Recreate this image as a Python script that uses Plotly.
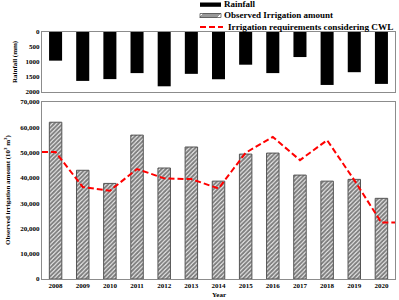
import plotly.graph_objects as go
from plotly.subplots import make_subplots

years = ["2008", "2009", "2010", "2011", "2012", "2013", "2014",
         "2015", "2016", "2017", "2018", "2019", "2020"]
rainfall = [955, 1630, 1570, 1370, 1810, 1395, 1575, 1090, 1370, 835, 1765, 1340, 1730]
observed = [62000, 43000, 37800, 56900, 43900, 52200, 38700, 49400, 49800, 41100, 38700, 39400, 31900]
required = [50200, 36400, 34900, 43500, 39800, 39500, 35800, 49900, 56200, 47000, 54900, 39100, 22300]

idx = list(range(len(years)))
FONT = "Liberation Serif"
TICKFONT = dict(family=FONT, size=7, color="black", weight="bold")

fig = make_subplots(rows=2, cols=1, shared_xaxes=True,
                    row_heights=[60, 177], vertical_spacing=10 / 247)

fig.add_trace(go.Bar(x=idx, y=rainfall, width=0.48, marker_color="black",
                     marker_line_width=0, name="Rainfall", showlegend=False),
              row=1, col=1)

fig.add_trace(go.Bar(x=idx, y=observed, width=0.46,
                     marker=dict(color="white",
                                 line=dict(color="#555555", width=1),
                                 pattern=dict(shape="/", fgcolor="black", bgcolor="white",
                                              size=3, solidity=0.7)),
                     name="Observed Irrigation amount", showlegend=False),
              row=2, col=1)

# line extends to the plot edges at the first / last value
lx = [idx[0] - 0.5] + idx + [idx[-1] + 0.5]
ly = [required[0]] + required + [required[-1]]
fig.add_trace(go.Scatter(x=lx, y=ly, mode="lines",
                         line=dict(color="red", width=2, dash="6px,3px"),
                         name="Irrigation requirements considering CWL", showlegend=False),
              row=2, col=1)

axis_common = dict(showline=True, linecolor="#8c8c8c", linewidth=1, mirror=True,
                   showgrid=False, zeroline=False)

fig.update_xaxes(range=[-0.5, len(years) - 0.5], tickvals=idx, ticktext=years,
                 tickfont=TICKFONT, ticks="", **axis_common)
fig.update_xaxes(showticklabels=False, row=1, col=1)

fig.update_yaxes(range=[2000, 0], tickvals=[0, 500, 1000, 1500, 2000],
                 tickfont=TICKFONT, ticks="", row=1, col=1, **axis_common)
fig.update_yaxes(range=[0, 70000], tickvals=list(range(0, 70001, 10000)),
                 tickformat=",", tickfont=TICKFONT,
                 ticks="", row=2, col=1, **axis_common)

H = 247.0
W = 353.0


def py(p):
    return (279 - p) / H


def px(p):
    return (p - 42) / W


annotations = [
    dict(text="<b>Rainfall (mm)</b>", x=px(15), y=py(62), textangle=-90),
    dict(text="<b>Observed irrigation amount (10<sup>3</sup> m<sup>3</sup>)</b>",
         x=px(7), y=py(190), textangle=-90),
    dict(text="<b>Year</b>", x=0.5, y=py(295)),
]
for a in annotations:
    a.update(xref="paper", yref="paper", showarrow=False,
             font=dict(family=FONT, size=7, color="black"),
             xanchor="center", yanchor="middle")

legend_texts = ["Rainfall", "Observed Irrigation amount",
                "Irrigation requirements considering CWL"]
legend_rows = [4.5, 15.5, 27]
legend_x = [222, 222, 226]
legend_sizes = [9, 9, 9.2]
for t, r, lxp, fs in zip(legend_texts, legend_rows, legend_x, legend_sizes):
    annotations.append(dict(text="<b>" + t + "</b>", x=px(lxp), y=py(r), xref="paper",
                            yref="paper", showarrow=False, xanchor="left",
                            yanchor="middle",
                            font=dict(family=FONT, size=fs, color="black")))

shapes = [
    dict(type="rect", xref="paper", yref="paper", x0=px(200), x1=px(221),
         y0=py(6.8), y1=py(2.5), fillcolor="black", line_width=0),
    dict(type="rect", xref="paper", yref="paper", x0=px(200), x1=px(221),
         y0=py(17.5), y1=py(13.5), fillcolor="white",
         line=dict(color="#555555", width=0.8)),
    dict(type="line", xref="paper", yref="paper", x0=px(200), x1=px(223),
         y0=py(27), y1=py(27), line=dict(color="red", width=2, dash="6px,3px")),
    # hatch glyph for legend
    dict(type="path", xref="paper", yref="paper", xsizemode="pixel",
         ysizemode="pixel", xanchor=px(200), yanchor=py(17.5),
         path=" ".join(f"M{k},0 L{k + 4},4" for k in range(0, 18, 2)),
         line=dict(color="black", width=0.8)),
]

fig.update_layout(width=399, height=300, margin=dict(l=42, r=4, t=32, b=21),
                  paper_bgcolor="white", plot_bgcolor="white", showlegend=False,
                  annotations=annotations, shapes=shapes,
                  font=dict(family=FONT, color="black"))

fig.write_html("out.html")
